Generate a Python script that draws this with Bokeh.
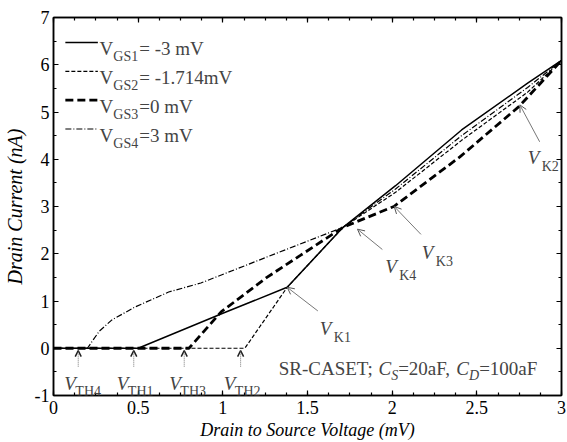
from math import pi
from bokeh.plotting import figure
from bokeh.models import (Label, Arrow, OpenHead, LinearAxis, Range1d,
                          SingleIntervalTicker, CustomJSTickFormatter)
from bokeh.embed import file_html
from bokeh.resources import INLINE

# ---------------- data ----------------
vgs1_x = [0.0, 0.50, 1.00, 1.38, 1.71, 2.02, 2.41, 2.80, 3.00]
vgs1_y = [0.0, 0.00, 0.74, 1.29, 2.56, 3.44, 4.62, 5.61, 6.09]

vgs2_x = [0.0, 1.13, 1.38, 1.71, 2.02, 2.41, 2.80, 3.00]
vgs2_y = [0.0, 0.00, 1.29, 2.56, 3.30, 4.40, 5.42, 6.09]

vgs3_x = [0.0, 0.80, 0.99, 1.26, 1.46, 1.71, 2.01, 2.40, 2.75, 3.00]
vgs3_y = [0.0, 0.00, 0.77, 1.50, 1.97, 2.56, 3.00, 4.05, 5.12, 6.09]

vgs4_x = [0.0, 0.20, 0.27, 0.345, 0.48, 0.68, 0.87, 1.26, 1.71, 2.02, 2.41, 2.80, 3.00]
vgs4_y = [0.0, 0.00, 0.36, 0.60, 0.87, 1.19, 1.38, 1.93, 2.56, 3.37, 4.50, 5.52, 6.09]

legend_subs = ["GS1", "GS2", "GS3", "GS4"]
legend_values = ["= -3 mV", "= -1.714mV", "=0 mV", "=3 mV"]

x_title = "Drain to Source Voltage (mV)"
y_title = "Drain Current (nA)"

# threshold annotations (V_TH): arrow x, label x
th_names = ["TH4", "TH1", "TH3", "TH2"]
th_arrow_x = [0.146, 0.474, 0.772, 1.105]
th_label_x = [0.064, 0.374, 0.684, 1.006]

# knee annotations (V_K): arrow tail, arrow tip, label anchor
k_names = ["K1", "K4", "K3", "K2"]
k_tail = [(1.561, 0.79), (1.942, 2.09), (2.170, 2.41), (2.871, 4.37)]
k_tip = [(1.380, 1.29), (1.795, 2.52), (2.012, 3.00), (2.754, 5.15)]
k_label = [(1.573, 0.41), (1.959, 1.74), (2.175, 2.03), (2.800, 4.03)]

FONT = "Liberation Serif"

# Times metrics (per em) to place text pieces next to each other
W_REG = {" ": .25, "-": .333, ";": .278, ",": .25, "=": .564, ".": .25,
         "(": .333, ")": .333, "A": .722, "C": .667, "D": .722, "E": .611,
         "F": .556, "G": .722, "H": .722, "K": .722, "R": .667, "S": .556,
         "T": .611, "V": .722, "a": .444, "m": .778, "n": .5}
W_IT = {" ": .25, "C": .667, "S": .5, "D": .722, "V": .611}


def tw(s, size, italic=False):
    table = W_IT if italic else W_REG
    return sum(table.get(ch, 0.5) for ch in s) * size


p = figure(width=567, height=442, x_range=Range1d(0, 3), y_range=Range1d(-1, 7),
           output_backend="svg", toolbar_location=None,
           min_border_left=51, min_border_right=6, min_border_top=17,
           min_border_bottom=45)
p.background_fill_color = "white"
p.border_fill_color = "white"
p.xgrid.visible = False
p.ygrid.visible = False
p.outline_line_color = "black"
p.outline_line_width = 1.5

fmt = CustomJSTickFormatter(code="return tick.toString();")


def style_axis(ax, labels=True):
    ax.axis_line_width = 1.5
    ax.axis_line_color = "black"
    ax.major_tick_in = 5
    ax.major_tick_out = 0
    ax.minor_tick_in = 3
    ax.minor_tick_out = 0
    ax.major_tick_line_width = 1.2
    ax.minor_tick_line_width = 1.2
    ax.major_tick_line_color = "black"
    ax.minor_tick_line_color = "black"
    if labels:
        ax.major_label_text_font = FONT
        ax.major_label_text_font_size = "18px"
        ax.major_label_text_color = "black"
        ax.axis_label_text_font = FONT
        ax.axis_label_text_font_style = "italic"
        ax.axis_label_text_color = "black"
    else:
        ax.major_label_text_font_size = "1px"
        ax.major_label_text_color = None
        ax.major_label_standoff = 0


p.xaxis.ticker = SingleIntervalTicker(interval=0.5, num_minor_ticks=4)
p.yaxis.ticker = SingleIntervalTicker(interval=1, num_minor_ticks=2)
p.xaxis.formatter = fmt
p.yaxis.formatter = fmt
style_axis(p.xaxis[0])
style_axis(p.yaxis[0])
p.xaxis.major_label_standoff = 5
p.yaxis.major_label_standoff = 4
p.xaxis.axis_label = x_title
p.xaxis.axis_label_text_font_size = "18px"
p.xaxis.axis_label_standoff = 3
p.yaxis.axis_label = y_title
p.yaxis.axis_label_text_font_size = "20px"
p.yaxis.axis_label_standoff = 6

top_ax = LinearAxis(ticker=SingleIntervalTicker(interval=0.5, num_minor_ticks=4))
style_axis(top_ax, labels=False)
p.add_layout(top_ax, "above")
right_ax = LinearAxis(ticker=SingleIntervalTicker(interval=1, num_minor_ticks=2))
style_axis(right_ax, labels=False)
p.add_layout(right_ax, "right")

# ---------------- curves ----------------
styles = [
    dict(line_width=2.8, line_dash="8 4"),        # VGS3
    dict(line_width=1.2, line_dash="6 2 1 2"),    # VGS4
    dict(line_width=1.2, line_dash="4 2"),        # VGS2
    dict(line_width=1.5, line_dash="solid"),      # VGS1
]
series = [(vgs3_x, vgs3_y), (vgs4_x, vgs4_y), (vgs2_x, vgs2_y), (vgs1_x, vgs1_y)]
for (xs, ys), st in zip(series, styles):
    p.line(xs, ys, line_color="black", **st)

# ---------------- legend (drawn by hand) ----------------
leg_styles = [styles[3], styles[2], styles[0], styles[1]]
leg_x0, leg_x1, leg_text_x = 0.070, 0.262, 0.272
leg_row_y = [6.47, 5.86, 5.25, 4.64]
for yy, st, sub, val in zip(leg_row_y, leg_styles, legend_subs, legend_values):
    p.line([leg_x0, leg_x1], [yy, yy], line_color="black", **st)
    p.add_layout(Label(x=leg_text_x, y=yy, y_offset=-6, text="V",
                       text_font=FONT, text_font_size="19px",
                       text_baseline="alphabetic"))
    vw = tw("V", 19)
    p.add_layout(Label(x=leg_text_x, y=yy, x_offset=vw, y_offset=-14, text=sub,
                       text_font=FONT, text_font_size="14px",
                       text_baseline="alphabetic"))
    sw = tw(sub, 14)
    p.add_layout(Label(x=leg_text_x, y=yy, x_offset=vw + sw + 1, y_offset=-6,
                       text=val, text_font=FONT, text_font_size="19px",
                       text_baseline="alphabetic"))

# ---------------- V_TH annotations ----------------
for name, ax_, lx in zip(th_names, th_arrow_x, th_label_x):
    p.add_layout(Arrow(x_start=ax_, y_start=-0.39, x_end=ax_, y_end=-0.05,
                       line_color="#777777", line_width=1, line_dash="1 1",
                       end=OpenHead(size=6, line_width=1.5, line_color="#222222")))
    p.add_layout(Label(x=lx, y=-0.75, text="V", text_font=FONT,
                       text_font_style="italic", text_font_size="19px",
                       text_baseline="alphabetic"))
    p.add_layout(Label(x=lx, y=-0.75, x_offset=11, y_offset=-8, text=name,
                       text_font=FONT, text_font_size="14px",
                       text_baseline="alphabetic"))

# ---------------- V_K annotations ----------------
for name, (tx, ty), (hx, hy), (lx, ly) in zip(k_names, k_tail, k_tip, k_label):
    p.add_layout(Arrow(x_start=tx, y_start=ty, x_end=hx, y_end=hy,
                       line_color="#777777", line_width=1,
                       end=OpenHead(size=7, line_width=1, line_color="#555555")))
    p.add_layout(Label(x=lx, y=ly, text="V", text_font=FONT,
                       text_font_style="italic", text_font_size="19px",
                       text_baseline="alphabetic"))
    p.add_layout(Label(x=lx, y=ly, x_offset=14, y_offset=-9, text=name,
                       text_font=FONT, text_font_size="14px",
                       text_baseline="alphabetic"))

# ---------------- SR-CASET note ----------------
note_x, note_y = 1.33, -0.43
pieces = [("SR-CASET; ", False, 19, 0), ("C", True, 19, 0), ("S", True, 14, -7),
          ("=20aF, ", False, 19, 0), ("C", True, 19, 0), ("D", True, 14, -7),
          ("=100aF", False, 19, 0)]
off = 0.0
for txt, it, size, dy in pieces:
    p.add_layout(Label(x=note_x, y=note_y, x_offset=off, y_offset=dy, text=txt,
                       text_font=FONT, text_font_size=f"{size}px",
                       text_font_style="italic" if it else "normal",
                       text_baseline="alphabetic"))
    off += tw(txt, size, it)

open("out.html", "w").write(file_html(p, INLINE))
